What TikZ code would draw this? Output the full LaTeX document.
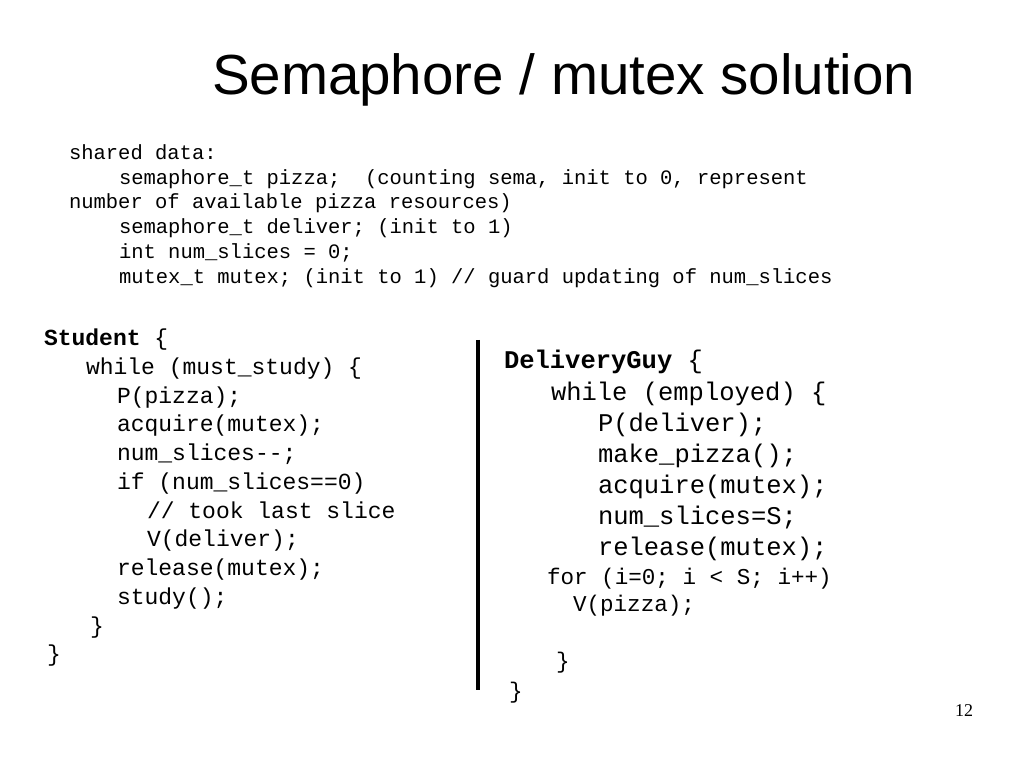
\documentclass[tikz,border=0pt]{standalone}
\usepackage{fontspec}
\setmainfont{Liberation Sans}
\newfontfamily\codefont{Liberation Mono}
\newfontfamily\numfont{Liberation Serif}
\newcommand{\fsz}[1]{\fontsize{#1}{#1}\selectfont}
\begin{document}
\begin{tikzpicture}[x=1pt,y=-1pt,
  txt/.style={anchor=base west, inner sep=0pt, outer sep=0pt},
  shared/.style={txt, font=\codefont\fsz{20.5}},
  stud/.style={txt, font=\codefont\fsz{23}},
  deliv/.style={txt, font=\codefont\fsz{25.5}},
  delivsm/.style={txt, font=\codefont\fsz{22.6}},
  titlestyle/.style={txt, font=\fsz{56.5}},
  pagenum/.style={txt, font=\numfont\fsz{18}},
  divider/.style={line width=4pt, black}]
\useasboundingbox[fill=white] (0,0) rectangle (1023,767);

\node[titlestyle] (title) at (212,95) {Semaphore / mutex solution};

\node[shared] (s1) at (69,160) {shared data:};
\node[shared] (s2) at (119,185) {semaphore\_t pizza;\ \ (counting sema, init to 0, represent};
\node[shared] (s3) at (69,209) {number of available pizza resources)};
\node[shared] (s4) at (119,234) {semaphore\_t deliver; (init to 1)};
\node[shared] (s5) at (119,259) {int num\_slices = 0;};
\node[shared] (s6) at (119,284) {mutex\_t mutex; (init to 1) // guard updating of num\_slices};

\node[stud] (st0) at (44,345) {\textbf{Student} \{};
\node[stud] (st1) at (86,374) {while (must\_study) \{};
\node[stud] (st2) at (117,403) {P(pizza);};
\node[stud] (st3) at (117,431) {acquire(mutex);};
\node[stud] (st4) at (117,460) {num\_slices-{}-;};
\node[stud] (st5) at (117,489) {if (num\_slices==0)};
\node[stud] (st6) at (147,518) {// took last slice};
\node[stud] (st7) at (147,546) {V(deliver);};
\node[stud] (st8) at (117,575) {release(mutex);};
\node[stud] (st9) at (117,604) {study();};
\node[stud] (st10) at (90,633) {\}};
\node[stud] (st11) at (47,661) {\}};

\coordinate (ltop) at (478,340);
\coordinate (lbot) at (478,690);
\draw[divider] (ltop) -- (lbot);

\node[deliv] (d0) at (504,368) {\textbf{DeliveryGuy} \{};
\node[deliv] (d1) at (551,400) {while (employed) \{};
\node[deliv] (d2) at (598,431) {P(deliver);};
\node[deliv] (d3) at (598,462) {make\_pizza();};
\node[deliv] (d4) at (598,493) {acquire(mutex);};
\node[deliv] (d5) at (598,524) {num\_slices=S;};
\node[deliv] (d6) at (598,555) {release(mutex);};
\node[delivsm] (d7) at (547,584) {for (i=0; i < S; i++)};
\node[delivsm] (d8) at (573,611) {V(pizza);};
\node[delivsm] (d9) at (556,668) {\}};
\node[delivsm] (d10) at (509,698) {\}};

\node[pagenum] (pg) at (955,716) {12};
\end{tikzpicture}
\end{document}
